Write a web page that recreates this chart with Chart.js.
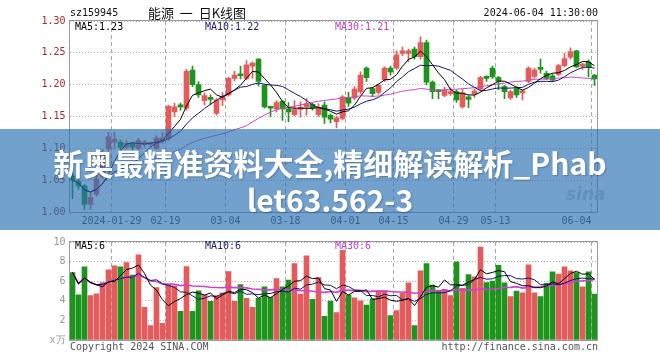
<!DOCTYPE html>
<html>
<head>
<meta charset="utf-8">
<script src="https://cdn.jsdelivr.net/npm/chart.js@4.4.1/dist/chart.umd.min.js"></script>
<style>
  body { margin: 0; background: #fff; width: 660px; height: 360px; overflow: hidden; position: relative; font-family: 'DejaVu Sans Mono', monospace; }
  canvas { position: absolute; left: 0; }
  #kline { top: 0; }
  #vol { top: 232px; }
  .txt { position: absolute; font-size: 10px; white-space: pre; line-height: 12px; }
  #logo { position: absolute; left: 566px; top: 184px; font: italic bold 17px 'DejaVu Sans', sans-serif; color: #cfcfcf; }
  #banner { position: absolute; left: 0; top: 129px; width: 660px; height: 101px; background: rgba(40, 110, 180, 0.65); }
  #headline { position: absolute; left: 0; top: 15px; width: 660px; text-align: center; color: #fff;
    font: bold 30px 'Noto Sans CJK SC', sans-serif; line-height: 37px; text-shadow: 1px 1px 2px rgba(0,0,0,0.25); }
</style>
</head>
<body>
<canvas id="kline" width="660" height="236"></canvas>
<canvas id="vol" width="660" height="128"></canvas>

<div class="txt" style="left:70px;top:7px;color:#111">sz159945</div>
<div class="txt" style="left:148px;top:4px;font:13px 'Noto Sans CJK SC',sans-serif;line-height:18px;color:#111">能源  一  日K线图</div>
<div class="txt" style="right:62px;top:7px;color:#111">2024-06-04 11:30:00</div>

<div class="txt" style="left:75px;top:21px;color:#000">MA5:1.23</div>
<div class="txt" style="left:205px;top:21px;color:#1a1a70">MA10:1.22</div>
<div class="txt" style="left:335px;top:21px;color:#c040c0">MA30:1.21</div>

<div class="txt" style="left:75px;top:240px;color:#000">MA5:6</div>
<div class="txt" style="left:205px;top:240px;color:#1a1a70">MA10:6</div>
<div class="txt" style="left:335px;top:240px;color:#c040c0">MA30:6</div>

<div class="txt" style="left:70px;top:341px;color:#555">Copyright 2024 SINA.COM</div>
<div class="txt" style="right:62px;top:341px;color:#555">http://finance.sina.com.cn</div>

<div id="logo">sina</div>
<div id="banner"><div id="headline">新奥最精准资料大全,精细解读解析_Phab<br>let63.562-3</div></div>

<script>
// 1. Trading days shown on the chart (2024)
const days = [
  '01-18','01-19','01-22','01-23','01-24','01-25','01-26',
  '01-29','01-30','01-31','02-01','02-02','02-05','02-06','02-07','02-08',
  '02-19','02-20','02-21','02-22','02-23','02-26','02-27','02-28','02-29','03-01',
  '03-04','03-05','03-06','03-07','03-08','03-11','03-12','03-13','03-14','03-15',
  '03-18','03-19','03-20','03-21','03-22','03-25','03-26','03-27','03-28','03-29',
  '04-01','04-02','04-03','04-08','04-09','04-10','04-11','04-12',
  '04-15','04-16','04-17','04-18','04-19','04-22','04-23','04-24','04-25','04-26',
  '04-29','04-30','05-06','05-07','05-08','05-09','05-10',
  '05-13','05-14','05-15','05-16','05-17','05-20','05-21','05-22','05-23','05-24',
  '05-27','05-28','05-29','05-30','05-31','06-03','06-04'
];

// date ticks under the K-line panel
const tickDays = ['01-29','02-19','03-04','03-18','04-01','04-15','04-29','05-13','06-04'];
const tickLabels = ['2024-01-29','02-19','03-04','03-18','04-01','04-15','04-29','05-13','06-04'];

// 2. Prices (open / high / low / close)
const opens = [
  1.057,1.048,1.041,1.012,1.028,1.055,1.099,1.110,1.110,1.102,
  1.108,1.100,1.106,1.106,1.100,1.112,1.115,1.157,1.166,1.163,
  1.223,1.200,1.175,1.179,1.155,1.176,1.184,1.210,1.216,1.210,
  1.229,1.240,1.199,1.165,1.162,1.174,1.162,1.153,1.161,1.165,
  1.169,1.153,1.168,1.152,1.142,1.147,1.180,1.179,1.189,1.226,
  1.194,1.188,1.208,1.226,1.226,1.249,1.249,1.256,1.244,1.266,
  1.204,1.191,1.183,1.186,1.189,1.165,1.181,1.185,1.193,1.212,
  1.226,1.211,1.197,1.179,1.194,1.187,1.205,1.213,1.227,1.218,
  1.214,1.216,1.230,1.243,1.253,1.229,1.236,1.215
];
const highs = [
  1.062,1.052,1.043,1.031,1.057,1.098,1.125,1.125,1.113,1.112,
  1.110,1.116,1.113,1.110,1.120,1.125,1.168,1.171,1.171,1.224,
  1.229,1.205,1.187,1.184,1.178,1.188,1.212,1.221,1.229,1.238,
  1.236,1.241,1.200,1.166,1.175,1.175,1.172,1.175,1.173,1.178,
  1.171,1.170,1.173,1.154,1.150,1.183,1.188,1.197,1.220,1.228,
  1.196,1.201,1.228,1.229,1.253,1.259,1.256,1.259,1.275,1.270,
  1.206,1.192,1.196,1.195,1.192,1.193,1.183,1.193,1.213,1.214,
  1.229,1.213,1.199,1.191,1.197,1.192,1.228,1.226,1.240,1.221,
  1.217,1.232,1.249,1.258,1.254,1.234,1.239,1.216
];
const lows = [
  1.021,1.036,1.004,1.004,1.025,1.052,1.095,1.100,1.098,1.099,
  1.098,1.097,1.102,1.103,1.098,1.108,1.112,1.150,1.160,1.160,
  1.197,1.180,1.168,1.168,1.152,1.167,1.182,1.206,1.209,1.208,
  1.210,1.198,1.163,1.150,1.157,1.144,1.142,1.151,1.149,1.152,
  1.160,1.150,1.139,1.140,1.132,1.145,1.166,1.176,1.186,1.205,
  1.181,1.185,1.205,1.215,1.224,1.245,1.236,1.240,1.240,1.200,
  1.178,1.178,1.181,1.183,1.172,1.163,1.164,1.180,1.190,1.205,
  1.210,1.192,1.178,1.177,1.180,1.176,1.203,1.210,1.218,1.208,
  1.205,1.214,1.228,1.240,1.227,1.224,1.212,1.199
];
const closes = [
  1.050,1.041,1.012,1.023,1.052,1.092,1.118,1.114,1.102,1.108,
  1.102,1.112,1.110,1.108,1.116,1.116,1.166,1.165,1.165,1.221,
  1.200,1.184,1.183,1.177,1.176,1.181,1.210,1.215,1.214,1.231,
  1.234,1.205,1.165,1.163,1.172,1.162,1.157,1.161,1.164,1.170,
  1.163,1.163,1.149,1.146,1.148,1.181,1.171,1.193,1.215,1.211,
  1.186,1.199,1.226,1.220,1.247,1.253,1.253,1.244,1.266,1.204,
  1.189,1.189,1.192,1.188,1.176,1.187,1.177,1.190,1.211,1.210,
  1.212,1.205,1.189,1.189,1.184,1.190,1.226,1.223,1.224,1.210,
  1.207,1.230,1.241,1.252,1.228,1.231,1.228,1.209
];

// 3. Volume (x 10k lots)
const volumes = [
  6.88,4.62,7.46,4.52,4.72,5.87,7.16,7.56,7.46,7.90,
  6.62,8.68,3.33,1.47,5.36,1.71,5.60,5.53,2.92,7.49,
  2.92,5.03,4.59,3.94,4.52,4.82,6.98,3.94,5.66,4.24,
  3.33,4.24,5.43,4.35,6.27,5.43,6.11,7.80,4.69,8.58,
  4.14,6.38,2.42,3.98,2.79,9.16,4.59,4.31,4.00,3.57,
  4.21,5.03,5.03,2.49,2.99,4.75,5.84,1.47,7.06,7.80,
  5.60,5.03,5.16,4.52,7.97,5.26,6.68,6.45,9.49,5.87,
  6.01,7.63,5.84,4.42,4.99,4.82,7.66,4.82,4.42,5.77,
  6.95,6.72,7.46,7.06,6.88,5.43,6.95,4.69
];

const RED = '#e35b5b';
const GREEN = '#1d951d';
const upColors = opens.map((o, i) => closes[i] >= o ? RED : GREEN);
const gridIdx = tickDays.map(d => days.indexOf(d));

// moving average (shorter window while history is short)
function movingAvg(src, n) {
  return src.map((_, i) => {
    const part = src.slice(Math.max(0, i - n + 1), i + 1);
    return part.reduce((a, b) => a + b, 0) / part.length;
  });
}

// 4. Shared pieces
const monoFont = { family: 'DejaVu Sans Mono', size: 10 };

const framePlugin = {
  id: 'frame',
  afterDraw(chart) {
    const { left, top, right, bottom } = chart.chartArea;
    const ctx = chart.ctx;
    ctx.save();
    ctx.strokeStyle = '#9a9a9a';
    ctx.lineWidth = 1;
    ctx.strokeRect(Math.floor(left) + 0.5, Math.round(top) - 0.5, Math.round(right - left), Math.round(bottom - top) + 1);
    ctx.restore();
  }
};

const dateLabels = {
  id: 'dateLabels',
  afterDraw(chart) {
    const x = chart.scales.x;
    const ctx = chart.ctx;
    const half = (x.getPixelForValue(1) - x.getPixelForValue(0)) / 2;
    ctx.save();
    ctx.font = '10px "DejaVu Sans Mono"';
    ctx.fillStyle = '#4a4a4a';
    ctx.textBaseline = 'middle';
    gridIdx.forEach((i, k) => {
      const px = x.getPixelForValue(i) - half;
      ctx.textAlign = k === gridIdx.length - 1 ? 'right' : 'center';
      ctx.fillText(tickLabels[k], px, chart.chartArea.bottom + 9);
    });
    ctx.restore();
  }
};

function xScale(height) {
  return {
    offset: true,
    grid: { offset: true, drawTicks: false, color: c => gridIdx.includes(c.index) ? '#a8a8a8' : 'rgba(0,0,0,0)' },
    border: { display: false, dash: [4, 3] },
    ticks: { display: false, autoSkip: false },
    afterFit: s => { s.height = height; }
  };
}

function maLine(data, color, width) {
  return { type: 'line', data: data, borderColor: color, borderWidth: width, pointRadius: 0, tension: 0, order: 0 };
}

// 5. K-line panel
new Chart(document.getElementById('kline'), {
  type: 'bar',
  data: {
    labels: days,
    datasets: [
      maLine(movingAvg(closes, 5), '#000000', 1),
      maLine(movingAvg(closes, 10), '#14146a', 1),
      maLine(movingAvg(closes, 30), '#c44cc4', 1),
      {
        data: opens.map((o, i) => [o, closes[i]]),
        backgroundColor: upColors, barThickness: 5, minBarLength: 2, grouped: false, order: 1
      },
      {
        data: lows.map((l, i) => [l, highs[i]]),
        backgroundColor: upColors, barThickness: 1, grouped: false, order: 2
      }
    ]
  },
  options: {
    responsive: false,
    animation: false,
    layout: { padding: { left: 0, right: 62.5, top: 21, bottom: 0 } },
    plugins: { legend: { display: false }, tooltip: { enabled: false } },
    scales: {
      x: xScale(24),
      y: {
        min: 1.0, max: 1.3,
        ticks: { stepSize: 0.05, callback: v => v.toFixed(2), color: '#a52a2a', font: monoFont, padding: 4 },
        grid: { color: '#b0b0b0', drawTicks: false },
        border: { display: false, dash: [1, 2] },
        afterFit: s => { s.width = 69.5; }
      }
    }
  },
  plugins: [framePlugin, dateLabels]
});

// 6. Volume panel
new Chart(document.getElementById('vol'), {
  type: 'bar',
  data: {
    labels: days,
    datasets: [
      maLine(movingAvg(volumes, 5), '#000000', 1),
      maLine(movingAvg(volumes, 10), '#14146a', 1),
      maLine(movingAvg(volumes, 30), '#d040d0', 1.6),
      { data: volumes, backgroundColor: upColors, barThickness: 5, order: 1 }
    ]
  },
  options: {
    responsive: false,
    animation: false,
    layout: { padding: { left: 0, right: 62.5, top: 8, bottom: 0 } },
    plugins: { legend: { display: false }, tooltip: { enabled: false } },
    scales: {
      x: xScale(20),
      y: {
        min: 0, max: 10,
        ticks: { stepSize: 2, callback: v => v === 0 ? 'x万' : v, color: '#999', font: monoFont, padding: 4 },
        grid: { color: '#b0b0b0', drawTicks: false },
        border: { display: false, dash: [1, 2] },
        afterFit: s => { s.width = 69.5; }
      }
    }
  },
  plugins: [framePlugin]
});
</script>
</body>
</html>
